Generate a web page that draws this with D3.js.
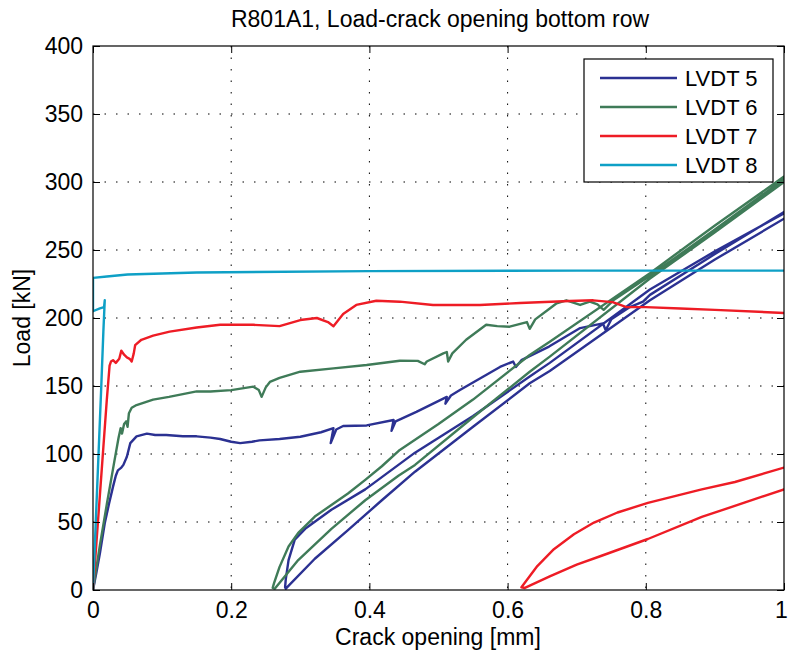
<!DOCTYPE html>
<html lang="en">
<head>
<meta charset="UTF-8">
<script src="https://cdn.jsdelivr.net/npm/d3@7"></script>
<title>R801A1, Load-crack opening bottom row</title>
<style>
    body { margin: 0; background: #ffffff; }
    svg { display: block; font-family: "Liberation Sans", Arial, sans-serif; }
    .grid line { stroke: #000; stroke-width: 1; stroke-dasharray: 1.5, 10; }
</style>
</head>
<body>
<svg width="789" height="659"></svg>
<script>
    const WIDTH = 789;
    const HEIGHT = 659;
    const LEFT = 93, RIGHT = 784, TOP = 46, BOTTOM = 590;

    const seriesNames = ["LVDT 5", "LVDT 6", "LVDT 7", "LVDT 8"];
    const seriesColors = ["#2b3192", "#3f7b58", "#ee1c25", "#0ea0c6"];
    const xTicks = [0, 0.2, 0.4, 0.6, 0.8, 1];
    const yTicks = [0, 50, 100, 150, 200, 250, 300, 350, 400];

    // crack opening [mm], load [kN]; points past x = 1 are clipped like the original
    const lvdt5 = [
        [0, 0], [0.005, 13], [0.01, 27], [0.017, 49], [0.023, 63], [0.029, 76], [0.033, 84],
        [0.036, 88], [0.041, 90], [0.044, 92], [0.049, 98], [0.054, 108], [0.063, 113],
        [0.078, 115], [0.09, 114], [0.106, 114], [0.13, 113], [0.15, 113], [0.17, 112],
        [0.184, 111], [0.2, 109], [0.213, 108], [0.23, 109], [0.241, 110], [0.27, 111],
        [0.3, 112.7], [0.33, 116], [0.348, 119], [0.344, 108], [0.352, 118], [0.362, 120.6],
        [0.396, 121], [0.435, 125], [0.432, 117], [0.438, 124], [0.468, 131], [0.512, 142],
        [0.51, 137], [0.518, 143], [0.531, 147], [0.589, 164], [0.608, 168], [0.612, 164],
        [0.62, 169], [0.66, 179], [0.705, 192.6], [0.738, 196], [0.742, 191], [0.75, 199],
        [0.777, 208], [0.796, 212], [0.806, 217], [0.9, 247], [1.0, 278], [1.05, 294],
        [1.0, 277], [0.9, 249], [0.806, 221], [0.661, 167], [0.632, 157], [0.55, 128],
        [0.466, 101], [0.442, 92], [0.394, 74], [0.345, 59], [0.307, 45], [0.292, 37],
        [0.283, 22], [0.279, 8], [0.278, 2],
        [0.279, 1], [0.321, 23], [0.369, 44], [0.418, 66], [0.466, 87], [0.55, 120],
        [0.632, 152], [0.661, 161], [0.806, 213], [0.9, 243], [1.0, 273], [1.05, 290]
    ];

    const lvdt6 = [
        [0, 0], [0.01, 33], [0.02, 63], [0.03, 92], [0.037, 112], [0.04, 119], [0.042, 115],
        [0.045, 122], [0.048, 124], [0.05, 120], [0.052, 130], [0.056, 134], [0.063, 136],
        [0.075, 138], [0.087, 140], [0.11, 142], [0.13, 144], [0.15, 146], [0.17, 146],
        [0.2, 147], [0.232, 149.5], [0.24, 147], [0.244, 142], [0.25, 149], [0.256, 153],
        [0.27, 156], [0.3, 160.5], [0.348, 163], [0.396, 165.4], [0.444, 168.6], [0.47, 168.5],
        [0.48, 166], [0.483, 168], [0.507, 174], [0.512, 175], [0.514, 168], [0.52, 174],
        [0.54, 184], [0.569, 195], [0.585, 194], [0.603, 193.6], [0.628, 197], [0.632, 192],
        [0.64, 199], [0.661, 207], [0.671, 210.8], [0.685, 213], [0.705, 209.6], [0.719, 212],
        [0.73, 210], [0.739, 206], [0.753, 213], [0.806, 231], [0.9, 265], [1.0, 302],
        [1.05, 320],
        [1.0, 304], [0.9, 268], [0.806, 233], [0.661, 182.6], [0.632, 172.8], [0.55, 140],
        [0.5, 122], [0.444, 103], [0.418, 91], [0.394, 81], [0.369, 71], [0.345, 62.5],
        [0.321, 54], [0.297, 42], [0.283, 32], [0.27, 17], [0.262, 5], [0.26, 1.5],
        [0.263, 1], [0.297, 22], [0.345, 45], [0.394, 66], [0.442, 84], [0.466, 92],
        [0.55, 127], [0.632, 160.5], [0.661, 171.6], [0.806, 229], [0.9, 263], [1.0, 300],
        [1.05, 318]
    ];

    const lvdt7 = [
        [0, 0], [0.005, 35], [0.01, 70], [0.015, 105], [0.02, 140], [0.024, 165], [0.026, 168],
        [0.029, 169], [0.033, 167], [0.038, 170], [0.041, 176], [0.045, 173], [0.049, 171],
        [0.053, 170], [0.056, 168], [0.059, 174], [0.061, 180], [0.07, 184], [0.087, 187],
        [0.111, 190], [0.15, 193], [0.184, 195], [0.232, 195], [0.27, 194], [0.3, 198.5],
        [0.324, 200], [0.34, 197], [0.348, 194], [0.362, 203], [0.381, 209.6], [0.41, 212.7],
        [0.444, 212], [0.492, 209.6], [0.54, 209.6], [0.56, 209.6], [0.618, 211], [0.69, 212.5],
        [0.724, 213], [0.752, 211.7], [0.772, 208], [0.8, 208], [0.85, 207], [0.9, 206],
        [1.0, 203.7], [1.05, 202], [1.05, 95],
        [1.0, 90], [0.929, 79.4], [0.881, 74], [0.803, 64], [0.759, 57], [0.725, 49.6],
        [0.696, 41], [0.667, 30], [0.643, 17.6], [0.623, 4], [0.62, 2],
        [0.625, 1.5], [0.661, 10], [0.7, 18.7], [0.735, 25], [0.803, 37.5], [0.881, 53.7],
        [1.0, 74], [1.05, 82]
    ];

    const lvdt8 = [
        [0, 0], [0.004, 50], [0.008, 100], [0.012, 150], [0.015, 190], [0.017, 213],
        [0.016, 208], [0.01, 207], [0, 205],
        [0, 229.5], [0.02, 230.5], [0.05, 232], [0.15, 233.5], [0.4, 234.5], [0.7, 234.8],
        [1.0, 234.8]
    ];

    const allSeries = [lvdt5, lvdt6, lvdt7, lvdt8];

    const svg = d3.select("svg");

    const x = d3.scaleLinear().domain([0, 1]).range([LEFT, RIGHT]);
    const y = d3.scaleLinear().domain([0, 400]).range([BOTTOM, TOP]);

    svg.append("defs").append("clipPath")
        .attr("id", "plot-clip")
        .append("rect")
        .attr("x", LEFT).attr("y", TOP)
        .attr("width", RIGHT - LEFT).attr("height", BOTTOM - TOP);

    // dotted grid
    const grid = svg.append("g").attr("class", "grid");
    grid.selectAll("line.v")
        .data(xTicks.slice(1, -1))
        .enter().append("line")
        .attr("x1", d => x(d)).attr("x2", d => x(d))
        .attr("y1", TOP).attr("y2", BOTTOM);
    grid.selectAll("line.h")
        .data(yTicks.slice(1, -1))
        .enter().append("line")
        .attr("x1", LEFT).attr("x2", RIGHT)
        .attr("y1", d => y(d)).attr("y2", d => y(d));

    // data lines
    const line = d3.line().x(d => x(d[0])).y(d => y(d[1]));
    svg.append("g")
        .attr("clip-path", "url(#plot-clip)")
        .selectAll("path")
        .data(allSeries)
        .enter().append("path")
        .attr("d", line)
        .attr("fill", "none")
        .attr("stroke", (d, i) => seriesColors[i])
        .attr("stroke-width", 2.4)
        .attr("stroke-linejoin", "round")
        .attr("stroke-linecap", "round");

    // axes: ticks inward on all four sides, box around
    function styleAxis(g) {
        g.select(".domain").remove();
        g.selectAll(".tick line").attr("stroke", "#000");
        g.selectAll("text")
            .attr("fill", "#000")
            .style("font-size", "23px")
            .style("font-family", "'Liberation Sans', Arial, sans-serif");
    }

    const bottomAxis = svg.append("g")
        .attr("transform", `translate(0, ${BOTTOM})`)
        .call(d3.axisBottom(x).tickValues(xTicks).tickSizeInner(-7).tickPadding(12)
            .tickFormat(d3.format("~g")))
        .call(styleAxis);
    // keep the last label inside the canvas
    bottomAxis.selectAll(".tick text").filter(d => d === 1).attr("dx", -3);

    svg.append("g")
        .attr("transform", `translate(0, ${TOP})`)
        .call(d3.axisTop(x).tickValues(xTicks).tickSizeInner(-7).tickFormat(""))
        .call(styleAxis);
    svg.append("g")
        .attr("transform", `translate(${LEFT}, 0)`)
        .call(d3.axisLeft(y).tickValues(yTicks).tickSizeInner(-7).tickPadding(10))
        .call(styleAxis);
    svg.append("g")
        .attr("transform", `translate(${RIGHT}, 0)`)
        .call(d3.axisRight(y).tickValues(yTicks).tickSizeInner(-7).tickFormat(""))
        .call(styleAxis);

    svg.append("rect")
        .attr("x", LEFT).attr("y", TOP)
        .attr("width", RIGHT - LEFT).attr("height", BOTTOM - TOP)
        .attr("fill", "none").attr("stroke", "#000").attr("stroke-width", 1.2);

    // titles
    svg.append("text")
        .attr("x", 440).attr("y", 27)
        .attr("text-anchor", "middle")
        .style("font-size", "23px")
        .text("R801A1, Load-crack opening bottom row");
    svg.append("text")
        .attr("x", 438).attr("y", 645)
        .attr("text-anchor", "middle")
        .style("font-size", "23px")
        .text("Crack opening [mm]");
    svg.append("text")
        .attr("transform", `translate(30, 318) rotate(-90)`)
        .attr("text-anchor", "middle")
        .style("font-size", "23px")
        .text("Load [kN]");

    // legend
    const legend = svg.append("g").attr("transform", "translate(584, 59)");
    legend.append("rect")
        .attr("width", 189).attr("height", 123)
        .attr("fill", "#fff").attr("stroke", "#000").attr("stroke-width", 1.2);
    const items = legend.selectAll("g.item")
        .data(seriesNames)
        .enter().append("g")
        .attr("class", "item")
        .attr("transform", (d, i) => `translate(0, ${19 + i * 29})`);
    items.append("line")
        .attr("x1", 16).attr("x2", 93)
        .attr("stroke", (d, i) => seriesColors[i])
        .attr("stroke-width", 2.4);
    items.append("text")
        .attr("x", 101).attr("y", 8)
        .style("font-size", "22px")
        .text(d => d);
</script>
</body>
</html>
